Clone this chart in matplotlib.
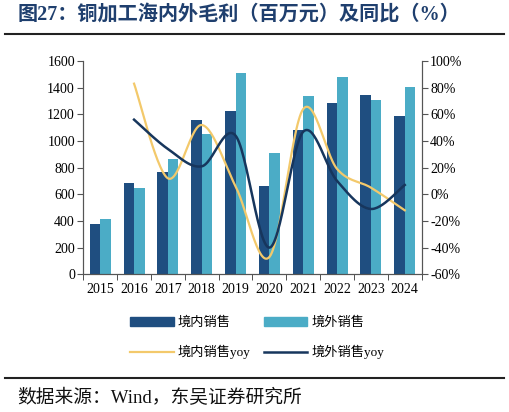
import numpy as np
import matplotlib.pyplot as plt
from matplotlib.patches import Patch
from matplotlib.lines import Line2D

years = ["2015", "2016", "2017", "2018", "2019", "2020", "2021", "2022", "2023", "2024"]
domestic = [375, 682, 765, 1160, 1227, 660, 1082, 1285, 1347, 1185]
overseas = [415, 647, 867, 1050, 1507, 910, 1337, 1477, 1307, 1405]
domestic_yoy = [None, 83, 12, 52, 6, -47, 64, 19, 5, -12]
overseas_yoy = [None, 56, 34, 21, 44, -40, 47, 10, -11, 7]

CJK = ["Liberation Serif", "Noto Sans CJK SC"]
DOM_C = "#1F4E80"
OVS_C = "#4BACC6"
DOM_L = "#F3C96B"
OVS_L = "#17365D"


def smooth(xs, ys, n=30):
    # Catmull-Rom, like the smoothed lines of office charts
    px, py = [], []
    for i in range(len(xs) - 1):
        x0, y0 = (xs[i - 1], ys[i - 1]) if i > 0 else (xs[i], ys[i])
        x1, y1 = xs[i], ys[i]
        x2, y2 = xs[i + 1], ys[i + 1]
        x3, y3 = (xs[i + 2], ys[i + 2]) if i + 2 < len(xs) else (x2, y2)
        t = np.linspace(0, 1, n)
        c1 = (x1 + (x2 - x0) / 6, y1 + (y2 - y0) / 6)
        c2 = (x2 - (x3 - x1) / 6, y2 - (y3 - y1) / 6)
        bx = (1 - t) ** 3 * x1 + 3 * (1 - t) ** 2 * t * c1[0] + 3 * (1 - t) * t ** 2 * c2[0] + t ** 3 * x2
        by = (1 - t) ** 3 * y1 + 3 * (1 - t) ** 2 * t * c1[1] + 3 * (1 - t) * t ** 2 * c2[1] + t ** 3 * y2
        px.extend(bx)
        py.extend(by)
    return np.array(px), np.array(py)


fig = plt.figure(figsize=(5.1, 4.12), dpi=100)
ax = fig.add_axes([83.3 / 510, 1 - 274.3 / 412, (421.7 - 83.3) / 510, (274.3 - 61) / 412])
ax2 = ax.twinx()

x = np.arange(len(years))
w = 0.31
ax.bar(x - w / 2, domestic, w, color=DOM_C, zorder=2)
ax.bar(x + w / 2, overseas, w, color=OVS_C, zorder=2)

idx = [i for i, v in enumerate(domestic_yoy) if v is not None]
sx, sy = smooth(x[idx].astype(float), [domestic_yoy[i] / 100 for i in idx])
ax2.plot(sx, sy, color=DOM_L, lw=1.6)
sx, sy = smooth(x[idx].astype(float), [overseas_yoy[i] / 100 for i in idx])
ax2.plot(sx, sy, color=OVS_L, lw=1.8)

ax.set_xlim(-0.5, len(years) - 0.5)
ax.set_ylim(0, 1600)
ax.set_yticks(range(0, 1601, 200))
ax2.set_ylim(-0.6, 1.0)
ax2.set_yticks(np.arange(-0.6, 1.01, 0.2))
ax2.set_yticklabels([f"{int(round(v * 100))}%" for v in np.arange(-0.6, 1.01, 0.2)])

ax.set_xticks(x)
ax.set_xticklabels(years)
ax.set_xticks(np.arange(-0.5, len(years), 1), minor=True)
ax.tick_params(axis="x", which="major", length=0, pad=6)
ax.tick_params(axis="x", which="minor", length=4, direction="out", color="#333333")

for a in (ax, ax2):
    a.spines["top"].set_visible(False)
    for s in ("left", "right", "bottom"):
        a.spines[s].set_color("#555555")
    a.tick_params(axis="y", length=4, color="#555555", labelsize=10, pad=2)
    a.tick_params(axis="x", labelsize=10)
    for lab in a.get_xticklabels() + a.get_yticklabels():
        lab.set_family("Liberation Serif")

handles = [
    Patch(color=DOM_C, label="境内销售"),
    Line2D([], [], color=DOM_L, lw=1.6, label="境内销售yoy"),
    Patch(color=OVS_C, label="境外销售"),
    Line2D([], [], color=OVS_L, lw=1.8, label="境外销售yoy"),
]
fig.legend(handles=handles, ncol=2, loc="center", bbox_to_anchor=(257 / 510, 1 - 338 / 412),
           frameon=False, prop={"family": CJK, "size": 9.5}, handlelength=3.3, handleheight=0.7,
           columnspacing=1.0, labelspacing=1.2, handletextpad=0.3)

fig.text(18 / 510, 1 - 16 / 412, "图27：铜加工海内外毛利（百万元）及同比（%）", family=CJK,
         fontsize=14.5, fontweight="bold", color="#1F3F6E", va="center", ha="left")
fig.add_artist(Line2D([5 / 510, 504 / 510], [1 - 34 / 412] * 2, color="#222222", lw=1.5))
fig.add_artist(Line2D([5 / 510, 504 / 510], [1 - 378 / 412] * 2, color="#222222", lw=1.5))
fig.text(17 / 510, 1 - 398 / 412, "数据来源：Wind，东吴证券研究所", family=CJK,
         fontsize=13.5, color="#111111", va="center", ha="left")

fig.savefig("out.png", dpi=100)
